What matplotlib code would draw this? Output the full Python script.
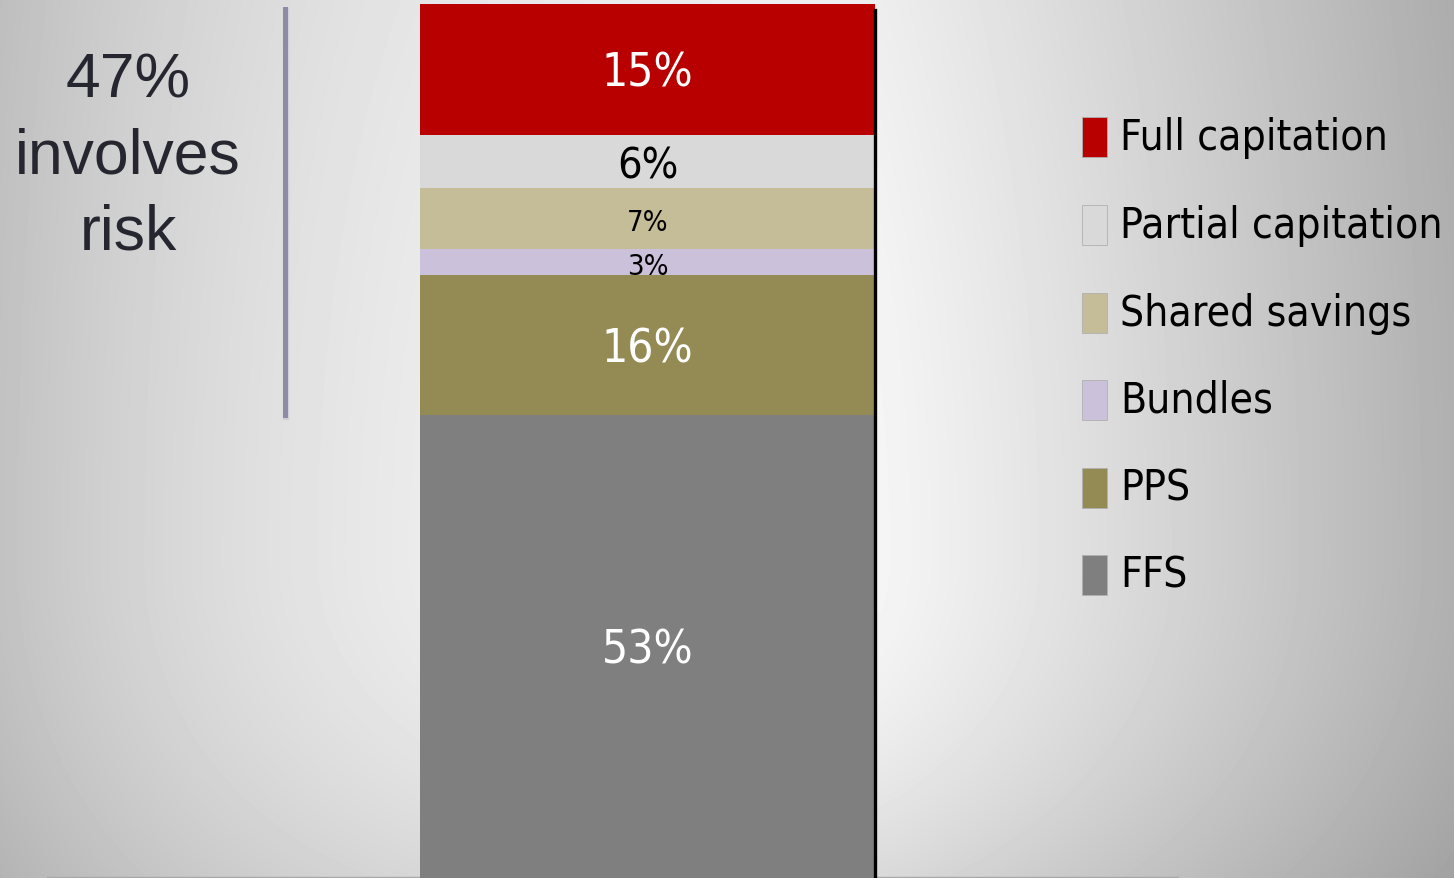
import matplotlib
matplotlib.use("Agg")
import matplotlib.pyplot as plt
import numpy as np
from matplotlib import font_manager
from matplotlib.patches import Rectangle

# payment model shares, stacked bottom -> top
categories = ["FFS", "PPS", "Bundles", "Shared savings", "Partial capitation", "Full capitation"]
shares = [53, 16, 3, 7, 6, 15]
colors = ["#7f7f7f", "#948a54", "#ccc1da", "#c4bd97", "#d9d9d9", "#b80000"]
label_colors = ["white", "white", "black", "black", "black", "white"]
label_sizes = [33, 33, 21, 21, 31, 33]
headline = "47%\ninvolves\nrisk"

W, H = 1454, 879


def find_narrow_font():
    # look for any installed condensed / narrow sans face, regular weight
    for f in font_manager.fontManager.ttflist:
        tag = (f.name + " " + f.fname).lower()
        if ("narrow" in tag or "condensed" in tag) and "bold" not in tag \
                and "italic" not in tag and "oblique" not in tag and "light" not in tag \
                and "mono" not in tag and "serif" not in tag.replace("sans", ""):
            return f.fname
    return None


narrow_path = find_narrow_font()
if narrow_path:
    NARROW = font_manager.FontProperties(fname=narrow_path)
    scale = 1.0
else:
    NARROW = font_manager.FontProperties(family=["Liberation Sans", "DejaVu Sans"])
    scale = 0.82

fig = plt.figure(figsize=(W / 100, H / 100), dpi=100)

# grey slide background, brightest just right of the bar
bg = fig.add_axes([0, 0, 1, 1], zorder=-5)
yy, xx = np.mgrid[0:H, 0:W].astype(float)
cx, cy = 880.0, 560.0
hnorm = np.where(xx < cx, (cx - xx) / cx, (xx - cx) / (W - cx))
hdrop = np.where(xx < cx, 0.20 * hnorm ** 2.5, 0.27 * hnorm ** 1.1)
vdrop = np.where(yy < cy, 0.03 * ((cy - yy) / cy) ** 2, 0.11 * ((yy - cy) / (H - cy)) ** 2)
shade = np.clip(0.96 - hdrop - vdrop * (1 - 0.5 * hnorm), 0, 1)
bg.imshow(shade, cmap="gray", vmin=0, vmax=1, aspect="auto", extent=[0, W, H, 0])
bg.plot([47, 1178], [878, 878], color="#a8a8a8", linewidth=1.0)
bg.set_xlim(0, W)
bg.set_ylim(H, 0)
bg.axis("off")

# stacked bar
ax = fig.add_axes([420 / W, 0, 455 / W, 874 / H])
ax.set_facecolor("none")
bottom = 0
for val, col, lc, fs in zip(shares, colors, label_colors, label_sizes):
    ax.bar(0, val, width=1.0, bottom=bottom, color=col, edgecolor="none")
    t = ax.text(0, bottom + val / 2 - 0.45, f"{val}%", ha="center", va="center",
                color=lc, fontproperties=NARROW)
    t.set_fontsize(fs * scale)
    bottom += val
ax.set_xlim(-0.5, 0.5)
ax.set_ylim(0, 100)
for side in ["top", "left", "bottom"]:
    ax.spines[side].set_visible(False)
ax.spines["right"].set_linewidth(2.4)
ax.spines["right"].set_color("black")
ax.spines["right"].set_bounds(0, 99.3)
ax.set_xticks([])
ax.set_yticks([])

# headline text and divider
fig.text(128 / W, 1 - 157 / H, headline, ha="center", va="center",
         fontsize=45, color="#262630", family=["Liberation Sans", "DejaVu Sans"],
         linespacing=1.36)
fig.add_artist(plt.Line2D([286 / W, 286 / W], [1 - 12 / H, 1 - 418 / H],
                          color="#d0d0d8", linewidth=4.5, transform=fig.transFigure))
fig.add_artist(plt.Line2D([285 / W, 285 / W], [1 - 10 / H, 1 - 416 / H],
                          color="#8c8ca6", linewidth=3.6, transform=fig.transFigure))

# legend, top entry first
row_y = [138, 226, 314, 401, 489, 576]
for (name, col), y in zip(list(zip(categories, colors))[::-1], row_y):
    fig.add_artist(Rectangle((1082 / W, 1 - (y + 20) / H), 25 / W, 40 / H,
                             facecolor=col, edgecolor="#b0b0b0", linewidth=0.6,
                             transform=fig.transFigure))
    t = fig.text(1120 / W, 1 - y / H, name, ha="left", va="center",
                 color="black", fontproperties=NARROW)
    t.set_fontsize(30.5 * scale)

fig.savefig("out.png", dpi=100)
